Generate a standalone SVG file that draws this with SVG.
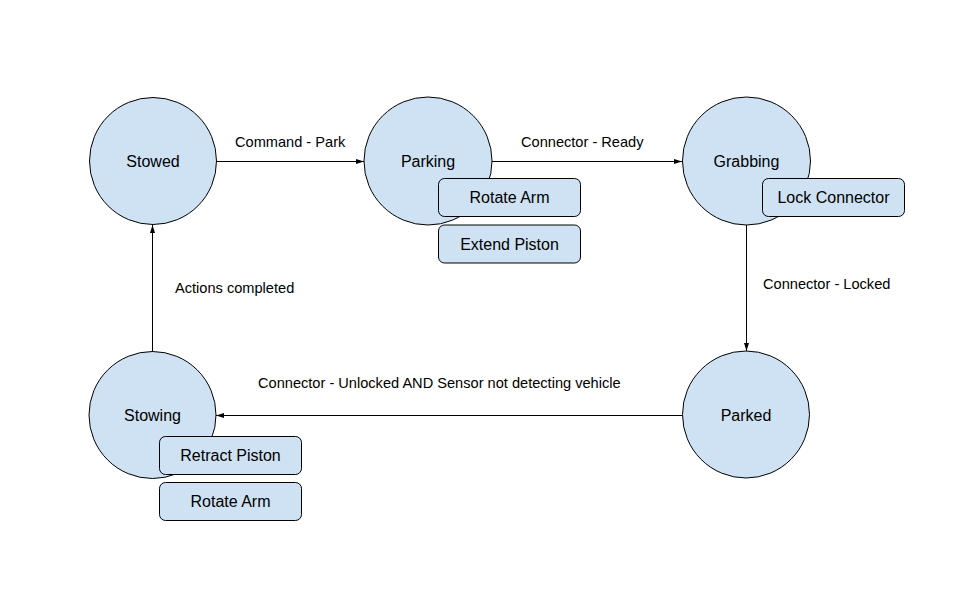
<svg xmlns="http://www.w3.org/2000/svg" width="958" height="590" viewBox="0 0 958 590">
<defs>
<style>
.st{fill:#cfe2f3;stroke:#000;stroke-width:1}
.bx{fill:#cfe2f3;stroke:#000;stroke-width:1}
.t{font-family:"Liberation Sans",Arial,sans-serif;font-size:16px;fill:#000;text-anchor:middle;dominant-baseline:central}
.l{font-family:"Liberation Sans",Arial,sans-serif;font-size:14.6px;fill:#000}
.c{fill:none;stroke:#000;stroke-width:1}
</style>
<marker id="ar" viewBox="0 0 8 8" refX="8" refY="4" markerWidth="8" markerHeight="8" markerUnits="userSpaceOnUse" orient="auto">
<path d="M0,1.5 L8,4 L0,6.5 Z" fill="#000"/>
</marker>
</defs>
<rect width="958" height="590" fill="#fff"/>
<g id="connectors">
<line class="c" x1="217" y1="161.5" x2="364" y2="161.5" marker-end="url(#ar)"/>
<line class="c" x1="492" y1="161.5" x2="682" y2="161.5" marker-end="url(#ar)"/>
<line class="c" x1="746.5" y1="225" x2="746.5" y2="351" marker-end="url(#ar)"/>
<line class="c" x1="682" y1="415.5" x2="216" y2="415.5" marker-end="url(#ar)"/>
<line class="c" x1="152.5" y1="352" x2="152.5" y2="225" marker-end="url(#ar)"/>
<text class="l" x="235" y="147">Command - Park</text>
<text class="l" x="521" y="147">Connector - Ready</text>
<text class="l" x="763" y="289">Connector - Locked</text>
<text class="l" x="258" y="388">Connector - Unlocked AND Sensor not detecting vehicle</text>
<text class="l" x="175" y="293">Actions completed</text>
</g>
<g id="stowed">
<circle class="st" cx="153" cy="161" r="63.5"/>
<text class="t" x="153" y="161">Stowed</text>
</g>
<g id="parking">
<circle class="st" cx="428" cy="161" r="64"/>
<text class="t" x="428" y="161">Parking</text>
</g>
<g id="parking-rotate-arm">
<rect class="bx" x="438.5" y="178.5" width="142" height="38" rx="6"/>
<text class="t" x="509.5" y="197.5">Rotate Arm</text>
</g>
<g id="parking-extend-piston">
<rect class="bx" x="438.5" y="225" width="142" height="38" rx="6"/>
<text class="t" x="509.5" y="244">Extend Piston</text>
</g>
<g id="grabbing">
<circle class="st" cx="746.5" cy="161" r="64"/>
<text class="t" x="746.5" y="161">Grabbing</text>
</g>
<g id="grabbing-lock-connector">
<rect class="bx" x="762.5" y="178.5" width="142" height="38" rx="6"/>
<text class="t" x="833.5" y="197.5">Lock Connector</text>
</g>
<g id="parked">
<circle class="st" cx="746" cy="414.5" r="63.5"/>
<text class="t" x="746" y="415">Parked</text>
</g>
<g id="stowing">
<circle class="st" cx="152.5" cy="415" r="63.5"/>
<text class="t" x="152.5" y="415">Stowing</text>
</g>
<g id="stowing-retract-piston">
<rect class="bx" x="159.5" y="436.5" width="142" height="38" rx="6"/>
<text class="t" x="230.5" y="455.5">Retract Piston</text>
</g>
<g id="stowing-rotate-arm">
<rect class="bx" x="159.5" y="482.5" width="142" height="38" rx="6"/>
<text class="t" x="230.5" y="501.5">Rotate Arm</text>
</g>
</svg>
